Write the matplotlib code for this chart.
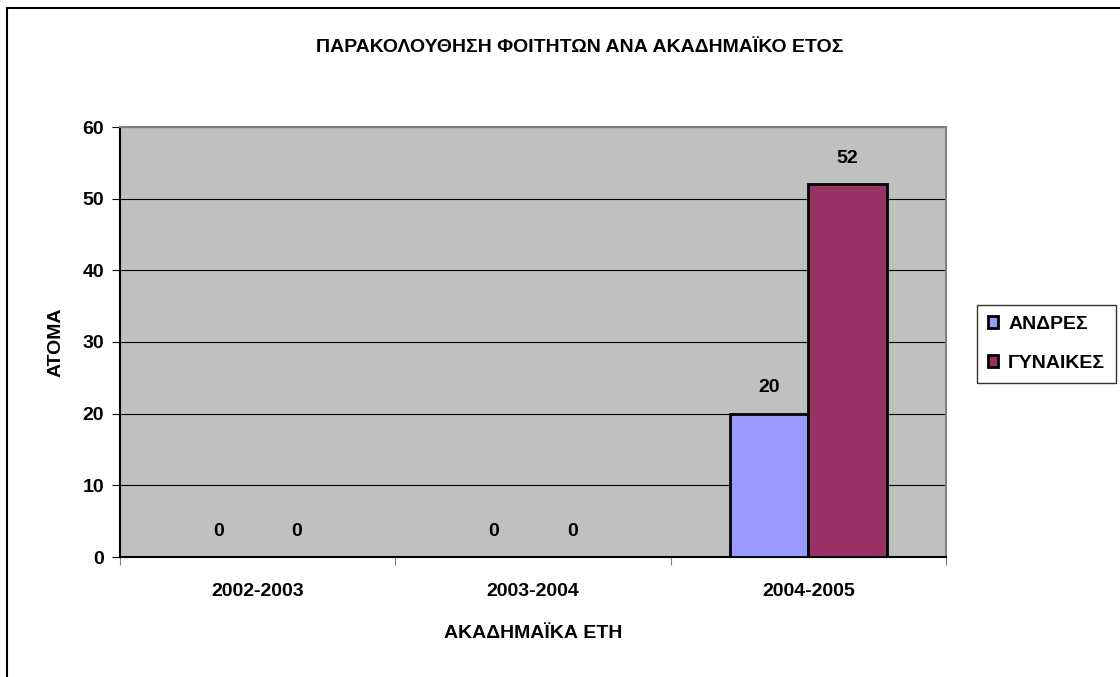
import matplotlib.pyplot as plt
import numpy as np
from matplotlib.patches import Rectangle

# data
etos = ["2002-2003", "2003-2004", "2004-2005"]
andres = [0, 0, 20]
gynaikes = [0, 0, 52]

plt.rcParams['font.family'] = ['Liberation Sans', 'DejaVu Sans']
plt.rcParams['font.weight'] = 'bold'

fig = plt.figure(figsize=(11.2, 6.77), dpi=100)
ax = fig.add_axes([120 / 1120, 1 - 557 / 677, (946 - 120) / 1120, (557 - 127) / 677])
ax.set_facecolor("#C0C0C0")

x = np.arange(len(etos))
w = 0.285
b1 = ax.bar(x - w / 2, andres, w, color="#9999FF", edgecolor="black", linewidth=2, label="ΑΝΔΡΕΣ", zorder=3)
b2 = ax.bar(x + w / 2, gynaikes, w, color="#993366", edgecolor="black", linewidth=2, label="ΓΥΝΑΙΚΕΣ", zorder=3)
for bars in (b1, b2):
    for r in bars:
        h = r.get_height()
        ax.text(r.get_x() + r.get_width() / 2, h + 2.4, f"{h:g}", ha="center", va="bottom",
                fontsize=14, fontweight="bold")

ax.set_xlim(-0.5, 2.5)
ax.set_ylim(0, 60)
ax.set_yticks(range(0, 61, 10))
ax.yaxis.grid(True, color="black", linewidth=0.8, zorder=0)
ax.set_axisbelow(True)

# category ticks between groups, labels centered
ax.set_xticks([-0.5, 0.5, 1.5, 2.5])
ax.set_xticklabels([])
ax.set_xticks(x, minor=True)
ax.set_xticklabels(etos, minor=True, fontsize=14, fontweight="bold")
ax.tick_params(axis="x", which="minor", length=0, pad=19)
ax.tick_params(axis="x", which="major", length=6, direction="out", color="#808080")
ax.tick_params(axis="y", length=6, direction="out", labelsize=14, pad=5.5)

for s in ("top", "right"):
    ax.spines[s].set_color("#808080")
    ax.spines[s].set_linewidth(1.5)
ax.spines["left"].set_linewidth(1.5)
ax.spines["bottom"].set_linewidth(1.5)

ax.set_ylabel("ΑΤΟΜΑ", fontsize=14, fontweight="bold")
ax.yaxis.set_label_coords((56 - 120) / 826, 0.5)
ax.set_xlabel("ΑΚΑΔΗΜΑΪΚΑ ΕΤΗ", fontsize=14, fontweight="bold")
ax.xaxis.set_label_coords(0.5, -(634 - 557) / 430)
ax.xaxis.label.set_va("center")
ax.yaxis.label.set_va("center")

fig.text(0.5 * (316 + 843) / 1120, 1 - 47 / 677, "ΠΑΡΑΚΟΛΟΥΘΗΣΗ ΦΟΙΤΗΤΩΝ ΑΝΑ ΑΚΑΔΗΜΑΪΚΟ ΕΤΟΣ",
         ha="center", va="center", fontsize=14, fontweight="bold")

leg = fig.legend(loc="upper left", bbox_to_anchor=(977 / 1120, 1 - 305 / 677), frameon=True,
                 fancybox=False, edgecolor="black", fontsize=14, handlelength=0.55, handleheight=0.55,
                 handletextpad=0.5, borderpad=0.55, labelspacing=1.15, borderaxespad=0)
leg.get_frame().set_linewidth(1)

# outer chart border (extends past right/bottom edge)
fig.patches.append(Rectangle((7 / 1120, -0.05), 1.2, 1 - 8 / 677 + 0.05, transform=fig.transFigure,
                             fill=False, edgecolor="black", linewidth=1.5))

fig.savefig("out.png", dpi=100)
